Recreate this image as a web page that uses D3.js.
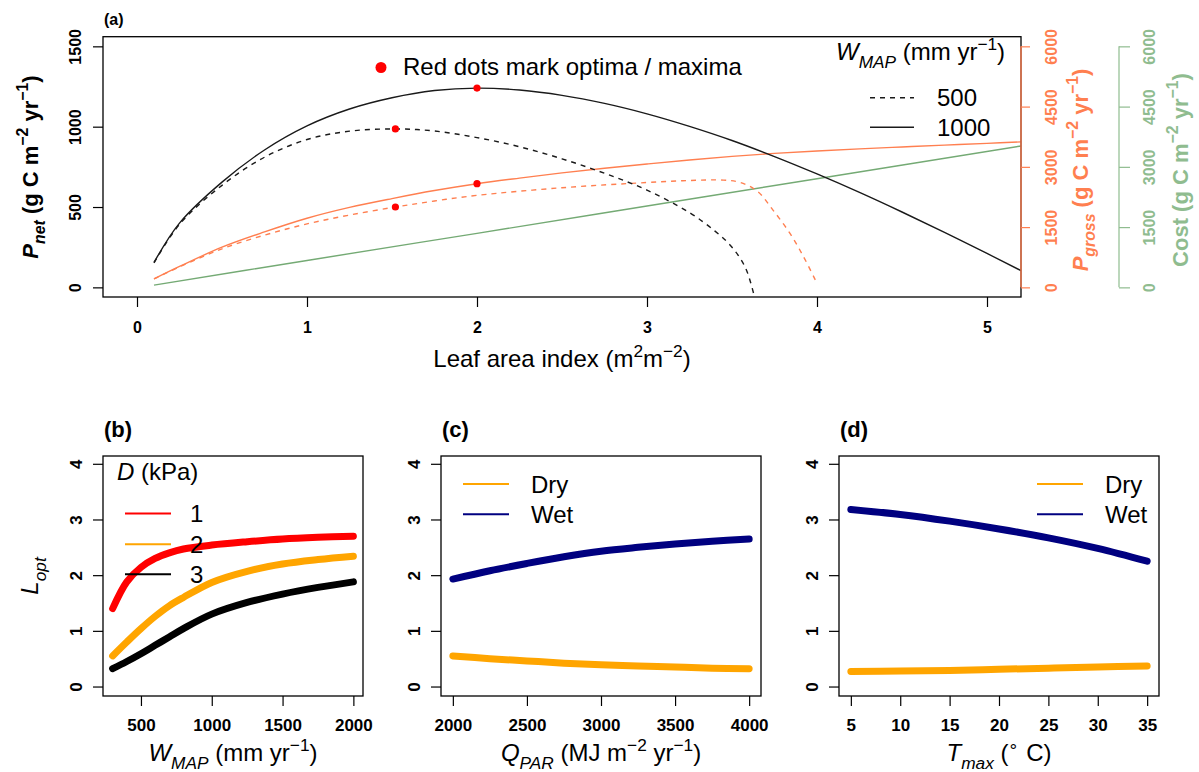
<!DOCTYPE html>
<html>
<head>
<meta charset="utf-8">
<script src="https://cdn.jsdelivr.net/npm/d3@7/dist/d3.min.js"></script>
<style>
  html, body { margin: 0; padding: 0; background: #fff; }
  svg { display: block; font-family: "Liberation Sans", Arial, Helvetica, sans-serif; }
</style>
</head>
<body>
<svg id="fig" width="1199" height="772"></svg>
<script>
// ---------- panel (a): carbon balance versus leaf area index ----------
const laiGrid   = [0.1, 0.25, 0.5, 0.75, 1.0, 1.25, 1.5, 1.75, 2.0, 2.25, 2.5, 2.75, 3.0, 3.25, 3.5, 3.75, 4.0, 4.25, 4.5, 4.75, 5.0, 5.2];
const pnetWet   = [155, 400, 655, 855, 1005, 1110, 1180, 1225, 1240, 1228, 1195, 1145, 1080, 1002, 914, 814, 706, 591, 469, 342, 211, 104];
const pgrossWet = [210, 520, 1000, 1380, 1720, 1990, 2210, 2410, 2580, 2720, 2850, 2965, 3070, 3170, 3260, 3335, 3395, 3448, 3495, 3540, 3585, 3622];

const laiPnetDry = [0.1, 0.25, 0.5, 0.75, 1.0, 1.25, 1.52, 1.75, 2.0, 2.25, 2.5, 2.75, 3.0, 3.25, 3.4, 3.5, 3.58, 3.63];
const pnetDry    = [152, 392, 635, 810, 920, 972, 986, 973, 932, 875, 800, 710, 605, 465, 350, 250, 120, -50];

const laiGrossDry = [0.1, 0.25, 0.5, 0.75, 1.0, 1.25, 1.52, 1.75, 2.0, 2.5, 3.0, 3.25, 3.45, 3.55, 3.65, 3.74, 3.84, 3.92, 3.99];
const pgrossDry   = [210, 510, 960, 1300, 1580, 1800, 2000, 2150, 2290, 2480, 2610, 2660, 2670, 2610, 2390, 1930, 1350, 770, 185];

const laiCost = [0.1, 1, 2, 3, 4, 5.2];
const costVal = [56, 670, 1345, 2025, 2705, 3520];

const optLai    = [1.52, 2.0];
const optPnet   = [986, 1240];
const optPgross = [2000, 2580];

const laiTicks   = [0, 1, 2, 3, 4, 5];
const pnetTicks  = [0, 500, 1000, 1500];
const grossTicks = [0, 1500, 3000, 4500, 6000];
const wmapLegend = ["500", "1000"];

// ---------- panel (b): optimal LAI versus rainfall ----------
const wmap   = [300, 400, 500, 600, 700, 800, 1000, 1250, 1500, 1750, 2000];
const loptD1 = [1.40, 1.88, 2.14, 2.30, 2.40, 2.47, 2.54, 2.60, 2.65, 2.68, 2.70];
const loptD2 = [0.55, 0.80, 1.04, 1.26, 1.45, 1.60, 1.87, 2.07, 2.20, 2.28, 2.34];
const loptD3 = [0.32, 0.45, 0.59, 0.74, 0.89, 1.04, 1.30, 1.51, 1.66, 1.78, 1.88];
const dLabels = ["1", "2", "3"];
const wmapTicks = [500, 1000, 1500, 2000];

// ---------- panel (c): optimal LAI versus radiation ----------
const qpar  = [2000, 2250, 2500, 2750, 3000, 3250, 3500, 3750, 4000];
const wetC  = [1.93, 2.08, 2.21, 2.33, 2.43, 2.50, 2.56, 2.61, 2.65];
const dryC  = [0.55, 0.50, 0.46, 0.42, 0.39, 0.37, 0.35, 0.33, 0.32];
const qparTicks = [2000, 2500, 3000, 3500, 4000];

// ---------- panel (d): optimal LAI versus temperature ----------
const tmax = [5, 10, 15, 20, 25, 30, 35];
const wetD = [3.18, 3.09, 2.97, 2.83, 2.67, 2.48, 2.25];
const dryD = [0.27, 0.28, 0.29, 0.31, 0.33, 0.35, 0.37];
const tmaxTicks = [5, 10, 15, 20, 25, 30, 35];

const loptTicks = [0, 1, 2, 3, 4];
const climateLabels = ["Dry", "Wet"];

// ---------- styling ----------
const C_ORANGE = "#FF7F50";
const C_GREEN_AX = "#8FBC8F";
const C_GREEN_LN = "#74AA74";
const C_DRY = "#FFA500";
const C_WET = "#000080";
const C_LINE = "#1a1a1a";

const svg = d3.select("#fig");

// text with italic / sub / superscript parts
function rich(parent, x, y, parts, o = {}) {
  const fs = o.size || 24;
  const t = parent.append("text")
    .attr("x", x).attr("y", y)
    .attr("font-size", fs)
    .attr("font-weight", o.bold ? "bold" : "normal")
    .attr("fill", o.fill || "#000")
    .attr("text-anchor", o.anchor || "start");
  if (o.rotate) {
    t.attr("x", 0).attr("y", 0)
     .attr("transform", `translate(${x},${y}) rotate(-90)`)
     .attr("dy", "0.35em");
  }
  let shift = 0;
  parts.forEach(p => {
    const target = p.sub ? fs * 0.32 : (p.sup ? -fs * 0.42 : 0);
    const ts = t.append("tspan")
      .attr("font-size", (p.sub || p.sup) ? fs * 0.72 : fs)
      .attr("font-style", p.i ? "italic" : "normal")
      .text(p.t);
    if (target - shift !== 0) ts.attr("dy", target - shift);
    shift = target;
  });
  return t;
}

function styleAxis(g, opts) {
  g.select(".domain").remove();
  g.selectAll(".tick line").attr("stroke", opts.color || "#000").attr("stroke-width", 1.2);
  g.selectAll(".tick text")
    .attr("fill", opts.textColor || "#000")
    .attr("font-size", opts.size)
    .attr("font-weight", "bold")
    .attr("font-family", "Liberation Sans, Arial, sans-serif");
}

function rotateYLabels(g, offset) {
  g.selectAll(".tick text")
    .attr("transform", "rotate(-90)")
    .attr("text-anchor", "middle")
    .attr("x", 0)
    .attr("y", offset)
    .attr("dy", "0.35em");
}

const smooth = d3.curveCatmullRom.alpha(0.5);

// ====================== PANEL (a) ======================
const A = { l: 103, r: 1021, t: 36.7, b: 297 };
const xA = d3.scaleLinear().domain([-0.2, 5.2]).range([A.l, A.r]);
const yNet = d3.scaleLinear().domain([-60, 1560]).range([A.b, A.t]);
const yGross = d3.scaleLinear().domain([-240, 6240]).range([A.b, A.t]);

svg.append("clipPath").attr("id", "clipA")
  .append("rect").attr("x", A.l).attr("y", A.t).attr("width", A.r - A.l).attr("height", A.b - A.t);

const gA = svg.append("g");
const plotA = gA.append("g").attr("clip-path", "url(#clipA)");

function series(xs, ys, xs_, ys_) {
  return d3.line().curve(smooth).x((d, i) => xs_(xs[i])).y((d, i) => ys_(ys[i]))(ys);
}

// cost (green)
plotA.append("path").attr("d", series(laiCost, costVal, xA, yGross))
  .attr("fill", "none").attr("stroke", C_GREEN_LN).attr("stroke-width", 1.4);
// gross production (orange)
plotA.append("path").attr("d", series(laiGrossDry, pgrossDry, xA, yGross))
  .attr("fill", "none").attr("stroke", C_ORANGE).attr("stroke-width", 1.4).attr("stroke-dasharray", "5,5");
plotA.append("path").attr("d", series(laiGrid, pgrossWet, xA, yGross))
  .attr("fill", "none").attr("stroke", C_ORANGE).attr("stroke-width", 1.4);
// net production (black)
plotA.append("path").attr("d", series(laiPnetDry, pnetDry, xA, yNet))
  .attr("fill", "none").attr("stroke", C_LINE).attr("stroke-width", 1.4).attr("stroke-dasharray", "5,5");
plotA.append("path").attr("d", series(laiGrid, pnetWet, xA, yNet))
  .attr("fill", "none").attr("stroke", C_LINE).attr("stroke-width", 1.4);

// optima markers
optLai.forEach((l, i) => {
  plotA.append("circle").attr("cx", xA(l)).attr("cy", yNet(optPnet[i])).attr("r", 3.6).attr("fill", "#ff0000");
  plotA.append("circle").attr("cx", xA(l)).attr("cy", yGross(optPgross[i])).attr("r", 3.6).attr("fill", "#ff0000");
});

// box
gA.append("rect").attr("x", A.l).attr("y", A.t).attr("width", A.r - A.l).attr("height", A.b - A.t)
  .attr("fill", "none").attr("stroke", "#000").attr("stroke-width", 1.3);

// axes
const axAx = gA.append("g").attr("transform", `translate(0,${A.b})`)
  .call(d3.axisBottom(xA).tickValues(laiTicks).tickFormat(d3.format("d")).tickSize(10).tickPadding(15));
styleAxis(axAx, { size: 16 });

const axAy = gA.append("g").attr("transform", `translate(${A.l},0)`)
  .call(d3.axisLeft(yNet).tickValues(pnetTicks).tickFormat(d3.format("d")).tickSize(10));
styleAxis(axAy, { size: 16 });
rotateYLabels(axAy, -28);

const axAg = gA.append("g").attr("transform", `translate(${A.r},0)`)
  .call(d3.axisRight(yGross).tickValues(grossTicks).tickFormat(d3.format("d")).tickSize(9));
styleAxis(axAg, { size: 16, color: C_ORANGE, textColor: C_ORANGE });
rotateYLabels(axAg, 30);
gA.append("line").attr("x1", A.r).attr("x2", A.r).attr("y1", yGross(0)).attr("y2", yGross(6000))
  .attr("stroke", C_ORANGE).attr("stroke-width", 1.4);

const costX = 1119;
const axAc = gA.append("g").attr("transform", `translate(${costX},0)`)
  .call(d3.axisRight(yGross).tickValues(grossTicks).tickFormat(d3.format("d")).tickSize(11));
styleAxis(axAc, { size: 16, color: C_GREEN_AX, textColor: C_GREEN_AX });
rotateYLabels(axAc, 30);
gA.append("line").attr("x1", costX).attr("x2", costX).attr("y1", yGross(0)).attr("y2", yGross(6000))
  .attr("stroke", C_GREEN_AX).attr("stroke-width", 1.2);

// axis titles
rich(gA, 562, 367, [{ t: "Leaf area index (m" }, { t: "2", sup: true }, { t: "m" }, { t: "−2", sup: true }, { t: ")" }], { anchor: "middle", size: 24 });
rich(gA, 30, 167, [{ t: "P", i: true }, { t: "net", i: true, sub: true }, { t: " (g C m" }, { t: "−2", sup: true }, { t: " yr" }, { t: "−1", sup: true }, { t: ")" }], { anchor: "middle", size: 22, bold: true, rotate: true });
rich(gA, 1080, 170, [{ t: "P", i: true }, { t: "gross", i: true, sub: true }, { t: " (g C m" }, { t: "−2", sup: true }, { t: " yr" }, { t: "−1", sup: true }, { t: ")" }], { anchor: "middle", size: 22, bold: true, rotate: true, fill: C_ORANGE });
rich(gA, 1180, 170, [{ t: "Cost (g C m" }, { t: "−2", sup: true }, { t: " yr" }, { t: "−1", sup: true }, { t: ")" }], { anchor: "middle", size: 22, bold: true, rotate: true, fill: C_GREEN_AX });

// panel tag
gA.append("text").attr("x", 104).attr("y", 25).attr("font-size", 16).attr("font-weight", "bold").text("(a)");

// legends
gA.append("circle").attr("cx", 381).attr("cy", 67.5).attr("r", 5.5).attr("fill", "#ff0000");
gA.append("text").attr("x", 403).attr("y", 75).attr("font-size", 24).text("Red dots mark optima / maxima");

rich(gA, 836, 60, [{ t: "W", i: true }, { t: "MAP", i: true, sub: true }, { t: " (mm yr" }, { t: "−1", sup: true }, { t: ")" }], { size: 24 });
const legY = [97.7, 127.3];
wmapLegend.forEach((lab, i) => {
  gA.append("line").attr("x1", 870).attr("x2", 914).attr("y1", legY[i]).attr("y2", legY[i])
    .attr("stroke", C_LINE).attr("stroke-width", 1.4).attr("stroke-dasharray", i === 0 ? "5,5" : null);
  gA.append("text").attr("x", 937).attr("y", legY[i] + 8.5).attr("font-size", 24).text(lab);
});

// ====================== bottom panels ======================
const BT = 456, BB = 696;
const yL = d3.scaleLinear().domain([-0.17, 4.14]).range([BB, BT]);

function bottomPanel(left, right, xDomain, xTicks, tag) {
  const g = svg.append("g");
  const x = d3.scaleLinear().domain(xDomain).range([left, right]);
  const clipId = "clip" + tag.replace(/[()]/g, "");
  svg.append("clipPath").attr("id", clipId).append("rect")
    .attr("x", left).attr("y", BT).attr("width", right - left).attr("height", BB - BT);
  const plot = g.append("g").attr("clip-path", `url(#${clipId})`);
  g.append("rect").attr("x", left).attr("y", BT).attr("width", right - left).attr("height", BB - BT)
    .attr("fill", "none").attr("stroke", "#000").attr("stroke-width", 1.3);
  const ax = g.append("g").attr("transform", `translate(0,${BB})`)
    .call(d3.axisBottom(x).tickValues(xTicks).tickFormat(d3.format("d")).tickSize(10).tickPadding(13));
  styleAxis(ax, { size: 17 });
  const ay = g.append("g").attr("transform", `translate(${left},0)`)
    .call(d3.axisLeft(yL).tickValues(loptTicks).tickFormat(d3.format("d")).tickSize(10));
  styleAxis(ay, { size: 17 });
  rotateYLabels(ay, -27);
  g.append("text").attr("x", left + 1).attr("y", 437).attr("font-size", 22).attr("font-weight", "bold").text(tag);
  return { g, plot, x };
}

function thick(plot, xs, ys, x, color) {
  plot.append("path")
    .attr("d", d3.line().curve(smooth).x((d, i) => x(xs[i])).y((d, i) => yL(ys[i]))(ys))
    .attr("fill", "none").attr("stroke", color).attr("stroke-width", 7)
    .attr("stroke-linecap", "round").attr("stroke-linejoin", "round");
}

// (b)
const pb = bottomPanel(103, 363, [232, 2068], wmapTicks, "(b)");
thick(pb.plot, wmap, loptD3, pb.x, "#000000");
thick(pb.plot, wmap, loptD2, pb.x, C_DRY);
thick(pb.plot, wmap, loptD1, pb.x, "#ff0000");
rich(pb.g, 117, 480, [{ t: "D", i: true }, { t: " (kPa)" }], { size: 24 });
const dColors = ["#ff0000", C_DRY, "#000000"];
const dY = [513.5, 544.3, 574.3];
dLabels.forEach((lab, i) => {
  pb.g.append("line").attr("x1", 125).attr("x2", 171).attr("y1", dY[i]).attr("y2", dY[i])
    .attr("stroke", dColors[i]).attr("stroke-width", 2);
  pb.g.append("text").attr("x", 190).attr("y", dY[i] + 8.5).attr("font-size", 24).text(lab);
});
rich(pb.g, 233, 761, [{ t: "W", i: true }, { t: "MAP", i: true, sub: true }, { t: " (mm yr" }, { t: "−1", sup: true }, { t: ")" }], { anchor: "middle", size: 24 });
rich(svg, 30, 576, [{ t: "L", i: true }, { t: "opt", i: true, sub: true }], { anchor: "middle", size: 24, rotate: true });

// (c)
const pc = bottomPanel(441, 761, [1920, 4080], qparTicks, "(c)");
thick(pc.plot, qpar, dryC, pc.x, C_DRY);
thick(pc.plot, qpar, wetC, pc.x, C_WET);
const climColors = [C_DRY, C_WET];
const climY = [484, 514.3];
climateLabels.forEach((lab, i) => {
  pc.g.append("line").attr("x1", 463).attr("x2", 509).attr("y1", climY[i]).attr("y2", climY[i])
    .attr("stroke", climColors[i]).attr("stroke-width", 2);
  pc.g.append("text").attr("x", 531).attr("y", climY[i] + 8.5).attr("font-size", 24).text(lab);
});
rich(pc.g, 601, 761, [{ t: "Q", i: true }, { t: "PAR", i: true, sub: true }, { t: " (MJ m" }, { t: "−2", sup: true }, { t: " yr" }, { t: "−1", sup: true }, { t: ")" }], { anchor: "middle", size: 24 });

// (d)
const pd = bottomPanel(839, 1159, [3.8, 36.2], tmaxTicks, "(d)");
thick(pd.plot, tmax, dryD, pd.x, C_DRY);
thick(pd.plot, tmax, wetD, pd.x, C_WET);
climateLabels.forEach((lab, i) => {
  pd.g.append("line").attr("x1", 1037).attr("x2", 1083).attr("y1", climY[i]).attr("y2", climY[i])
    .attr("stroke", climColors[i]).attr("stroke-width", 2);
  pd.g.append("text").attr("x", 1105).attr("y", climY[i] + 8.5).attr("font-size", 24).text(lab);
});
rich(pd.g, 999, 761, [{ t: "T", i: true }, { t: "max", i: true, sub: true }, { t: " (" }, { t: "∘", sup: true }, { t: " C)" }], { anchor: "middle", size: 24 });
</script>
</body>
</html>
